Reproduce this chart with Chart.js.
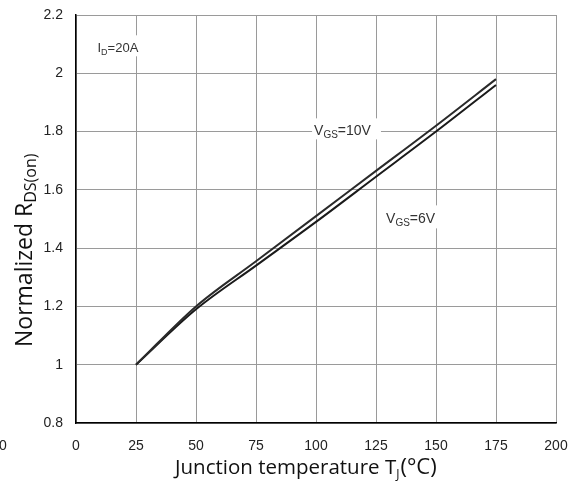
<!DOCTYPE html>
<html><head><meta charset="utf-8">
<script src="https://cdn.jsdelivr.net/npm/chart.js@4/dist/chart.umd.min.js"></script>
<style>html,body{margin:0;padding:0;background:#fff}#wrap{width:577px;height:490px}</style>
</head><body><div id="wrap"><canvas id="c" width="577" height="490"></canvas></div>
<script>
const temperatures = [25, 50, 75, 100, 125, 150, 175];
const rdsVgs10 = [1.00, 1.20, 1.355, 1.51, 1.665, 1.82, 1.98];
const rdsVgs6  = [1.00, 1.19, 1.34, 1.49, 1.645, 1.80, 1.96];
const xTicks = [0, 25, 50, 75, 100, 125, 150, 175, 200];
const yTicks = [0.8, 1, 1.2, 1.4, 1.6, 1.8, 2, 2.2];
const yTickLabels = ['0.8', '1', '1.2', '1.4', '1.6', '1.8', '2', '2.2'];

const TICK_FONT = {family: "'Liberation Sans', Arial, sans-serif", size: 14};
const TITLE_FAMILY = "'Open Sans', 'Noto Sans', sans-serif";

function drawRich(ctx, segs, x, y) {
  let cx = x;
  for (const s of segs) {
    ctx.font = s.size + 'px ' + s.family;
    ctx.fillText(s.text, cx, y + (s.dy || 0));
    cx += ctx.measureText(s.text).width + (s.gap || 0);
  }
  return cx - x;
}
function richWidth(ctx, segs) {
  let w = 0;
  for (const s of segs) { ctx.font = s.size + 'px ' + s.family; w += ctx.measureText(s.text).width + (s.gap || 0); }
  return w;
}

const AF = "'Liberation Sans', Arial, sans-serif";
const annotations = [
  {x: 8.95, y: 2.072, segs: [{text: 'I', size: 13, family: AF}, {text: 'D', size: 9, family: AF, dy: 3}, {text: '=20A', size: 13, family: AF}], padL: 2, padR: 4, top: 17, bottom: 4},
  {x: 99.2, y: 1.787, segs: [{text: 'V', size: 14, family: AF}, {text: 'GS', size: 10, family: AF, dy: 3}, {text: '=10V', size: 14, family: AF}], padL: 2, padR: 10, top: 17, bottom: 4},
  {x: 129.2, y: 1.485, segs: [{text: 'V', size: 14, family: AF}, {text: 'GS', size: 10, family: AF, dy: 3}, {text: '=6V', size: 14, family: AF}], padL: 6, padR: 2, top: 18, bottom: 5}
];

const overlay = {
  id: 'overlay',
  afterDraw(chart) {
    const {ctx, scales: {x, y}} = chart;
    ctx.save();
    ctx.textBaseline = 'alphabetic';
    ctx.textAlign = 'left';
    for (const a of annotations) {
      const px = x.getPixelForValue(a.x), py = y.getPixelForValue(a.y);
      const w = richWidth(ctx, a.segs);
      ctx.fillStyle = '#fff';
      ctx.fillRect(px - a.padL, py - a.top, w + a.padL + a.padR, a.top + a.bottom);
      ctx.fillStyle = '#333';
      drawRich(ctx, a.segs, px, py);
    }
    ctx.fillStyle = '#111';
    const xt = [{text: 'Junction temperature T', size: 20.5, family: TITLE_FAMILY},
                {text: 'J', size: 12, family: TITLE_FAMILY, dy: 4, gap: 1},
                {text: '(°C)', size: 22, family: TITLE_FAMILY}];
    drawRich(ctx, xt, 175, 474);
    ctx.save();
    ctx.translate(32, 347);
    ctx.rotate(-Math.PI / 2);
    const yt = [{text: 'Normalized R', size: 23, family: TITLE_FAMILY},
                {text: 'DS(on)', size: 16, family: TITLE_FAMILY, dy: 4}];
    drawRich(ctx, yt, 0, 0);
    ctx.restore();
    ctx.font = '14px ' + AF;
    ctx.textAlign = 'center';
    ctx.textBaseline = 'middle';
    ctx.fillStyle = '#222';
    ctx.fillText('0', 3, 446);
    ctx.restore();
  }
};

new Chart(document.getElementById('c'), {
  type: 'line',
  data: {
    datasets: [
      {label: 'VGS=10V', data: temperatures.map((t, i) => ({x: t, y: rdsVgs10[i]})), borderColor: '#2a2a2a', borderWidth: 2, pointRadius: 0, cubicInterpolationMode: 'monotone', fill: false},
      {label: 'VGS=6V', data: temperatures.map((t, i) => ({x: t, y: rdsVgs6[i]})), borderColor: '#1a1a1a', borderWidth: 2, pointRadius: 0, cubicInterpolationMode: 'monotone', fill: false}
    ]
  },
  options: {
    responsive: false,
    animation: false,
    devicePixelRatio: 1,
    layout: {padding: {top: 15, right: 21, left: 0, bottom: 0}},
    plugins: {legend: {display: false}, tooltip: {enabled: false}},
    scales: {
      x: {
        type: 'linear', min: 0, max: 200,
        afterBuildTicks: s => { s.ticks = xTicks.map(v => ({value: v})); },
        afterFit: s => { s.height = 67; s.paddingLeft = 0; s.paddingRight = 0; },
        ticks: {font: TICK_FONT, color: '#222', padding: 15, maxRotation: 0, autoSkip: false, callback: v => String(v)},
        grid: {color: '#9a9a9a', lineWidth: 1, drawTicks: false},
        border: {color: '#000', width: 1.5}
      },
      y: {
        type: 'linear', min: 0.8, max: 2.2,
        afterBuildTicks: s => { s.ticks = yTicks.map(v => ({value: v})); },
        afterFit: s => { s.width = 76; s.paddingTop = 0; s.paddingBottom = 0; },
        ticks: {font: TICK_FONT, color: '#222', padding: 13, autoSkip: false, callback: v => yTickLabels[yTicks.indexOf(v)] ?? String(v)},
        grid: {color: '#9a9a9a', lineWidth: 1, drawTicks: false},
        border: {color: '#000', width: 1.5}
      }
    }
  },
  plugins: [overlay]
});
</script>
</body></html>
